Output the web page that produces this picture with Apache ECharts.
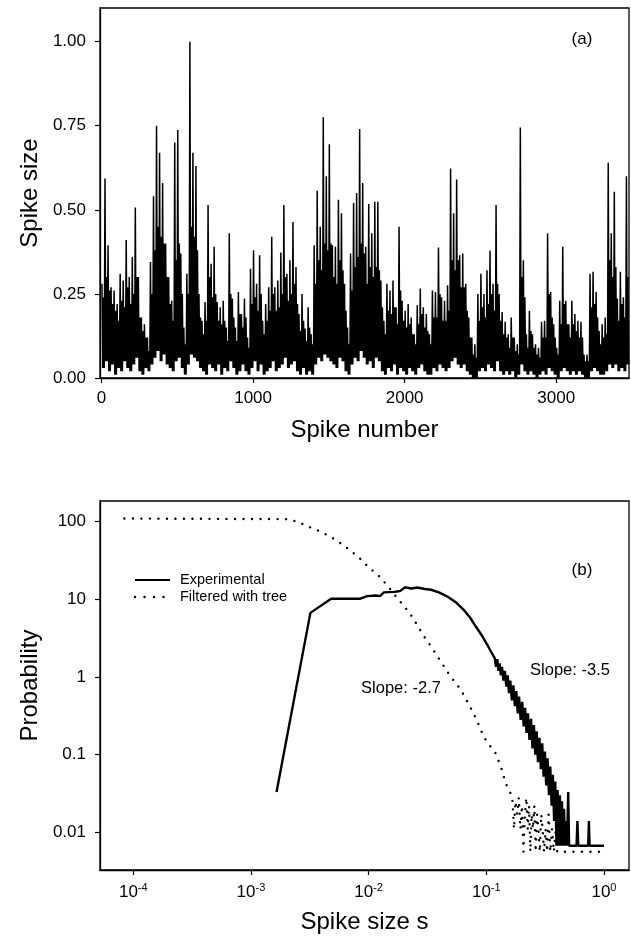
<!DOCTYPE html>
<html><head><meta charset="utf-8">
<script src="https://cdn.jsdelivr.net/npm/echarts@6/dist/echarts.min.js"></script>
<style>html,body{margin:0;padding:0;background:#fff}#c{width:631px;height:939px}</style>
</head><body><div id="c"></div>
<script>
// ---- Panel (a): spike sizes, read per block of 20 spikes ----
// peak = tallest spike in block, body = top of the dense mass, trough = lowest value
const BIN = 20;
const spikePeaks = [
 0.28,0.593,0.395,0.27,0.26,0.22,0.31,0.29,0.41,0.30,
 0.36,0.507,0.30,0.18,0.16,0.12,0.345,0.54,0.75,0.67,
 0.58,0.40,0.30,0.23,0.70,0.737,0.37,0.15,0.31,1.0,
 0.67,0.63,0.25,0.17,0.226,0.514,0.34,0.39,0.226,0.21,
 0.23,0.15,0.43,0.236,0.15,0.256,0.19,0.236,0.12,0.325,
 0.38,0.28,0.365,0.17,0.22,0.27,0.42,0.27,0.29,0.373,
 0.514,0.31,0.35,0.464,0.33,0.19,0.25,0.147,0.21,0.13,
 0.395,0.557,0.45,0.775,0.60,0.695,0.395,0.39,0.53,0.49,
 0.28,0.15,0.37,0.52,0.55,0.74,0.58,0.39,0.517,0.43,
 0.524,0.524,0.29,0.17,0.28,0.26,0.29,0.21,0.45,0.23,
 0.20,0.22,0.18,0.13,0.216,0.266,0.21,0.19,0.13,0.26,
 0.256,0.388,0.24,0.23,0.276,0.623,0.49,0.59,0.365,0.37,
 0.28,0.18,0.12,0.10,0.25,0.31,0.25,0.32,0.378,0.28,
 0.514,0.25,0.196,0.167,0.13,0.18,0.12,0.10,0.745,0.35,
 0.13,0.20,0.13,0.10,0.09,0.167,0.17,0.43,0.256,0.16,
 0.09,0.23,0.39,0.23,0.16,0.23,0.19,0.17,0.167,0.07,
 0.07,0.31,0.316,0.256,0.14,0.16,0.18,0.64,0.43,0.554,
 0.236,0.316,0.24,0.6
];
const spikeBody = [
 0.24,0.30,0.26,0.22,0.20,0.17,0.23,0.21,0.27,0.22,
 0.25,0.30,0.18,0.14,0.12,0.08,0.25,0.38,0.45,0.42,
 0.40,0.30,0.22,0.17,0.35,0.40,0.25,0.10,0.25,0.45,
 0.42,0.38,0.18,0.13,0.17,0.30,0.24,0.25,0.17,0.16,
 0.17,0.11,0.25,0.18,0.11,0.19,0.15,0.18,0.09,0.22,
 0.24,0.20,0.25,0.13,0.17,0.20,0.25,0.20,0.21,0.25,
 0.30,0.23,0.25,0.28,0.22,0.14,0.17,0.11,0.15,0.10,
 0.28,0.35,0.32,0.40,0.38,0.40,0.30,0.28,0.35,0.32,
 0.20,0.10,0.26,0.33,0.36,0.40,0.37,0.28,0.33,0.30,
 0.33,0.32,0.21,0.13,0.20,0.19,0.21,0.16,0.26,0.17,
 0.15,0.16,0.13,0.10,0.16,0.19,0.15,0.14,0.10,0.18,
 0.18,0.25,0.17,0.17,0.20,0.35,0.32,0.35,0.27,0.27,
 0.20,0.12,0.07,0.06,0.17,0.21,0.18,0.22,0.25,0.20,
 0.28,0.17,0.13,0.12,0.09,0.12,0.08,0.07,0.30,0.24,
 0.09,0.14,0.09,0.07,0.06,0.12,0.12,0.25,0.18,0.12,
 0.07,0.16,0.22,0.16,0.12,0.16,0.14,0.12,0.12,0.05,
 0.05,0.21,0.22,0.18,0.10,0.12,0.13,0.35,0.30,0.33,
 0.17,0.22,0.18,0.30
];
const spikeTroughs = [
 0.03,0.05,0.02,0.04,0.01,0.03,0.02,0.05,0.03,0.02,
 0.04,0.06,0.02,0.01,0.03,0.02,0.04,0.06,0.08,0.05,
 0.07,0.04,0.03,0.02,0.05,0.06,0.03,0.01,0.04,0.07,
 0.06,0.05,0.03,0.02,0.01,0.04,0.03,0.02,0.04,0.01,
 0.03,0.02,0.05,0.03,0.01,0.02,0.04,0.02,0.01,0.03,
 0.05,0.02,0.04,0.01,0.02,0.03,0.05,0.02,0.03,0.04,
 0.06,0.03,0.04,0.05,0.02,0.01,0.03,0.01,0.02,0.01,
 0.04,0.06,0.05,0.07,0.06,0.05,0.04,0.03,0.06,0.05,
 0.02,0.01,0.04,0.06,0.05,0.08,0.06,0.04,0.05,0.03,
 0.06,0.05,0.02,0.01,0.03,0.02,0.04,0.01,0.03,0.02,
 0.01,0.03,0.02,0.01,0.03,0.04,0.02,0.01,0.01,0.03,
 0.02,0.04,0.03,0.02,0.03,0.05,0.06,0.04,0.03,0.04,
 0.02,0.01,0.0,0.0,0.02,0.03,0.02,0.04,0.03,0.02,
 0.05,0.02,0.01,0.02,0.01,0.02,0.0,0.01,0.04,0.02,
 0.01,0.02,0.01,0.0,0.01,0.02,0.01,0.03,0.02,0.01,
 0.0,0.02,0.03,0.02,0.01,0.02,0.01,0.02,0.01,0.0,
 0.0,0.02,0.03,0.02,0.01,0.01,0.02,0.04,0.03,0.04,
 0.02,0.03,0.02,0.04
];
const spikeTicks = [0, 1000, 2000, 3000];
const sizeTicks = [0, 0.25, 0.5, 0.75, 1.0];

// ---- Panel (b): probability distributions ----
const expS = [0.00165,0.0032,0.0048,0.0085,0.0097,0.0115,0.0125,0.0135,0.0165,0.0185,
 0.0205,0.023,0.026,0.030,0.034,0.040,0.047,0.055,0.064,0.073,0.082,0.092,0.102,0.110,
 0.118,0.121,0.124,0.127,0.130,0.133,0.136,0.140,0.144,0.148,0.152,0.156,0.160,0.165,0.170,0.175,
 0.180,0.185,0.190,0.196,0.202,0.208,0.214,0.220,0.226,0.233,0.240,0.247,0.254,0.261,0.268,0.275,
 0.283,0.291,0.299,0.307,0.315,0.323,0.332,0.341,0.350,0.359,0.368,0.377,0.386,0.395,0.404,0.413,
 0.422,0.431,0.440,0.449,0.458,0.467,0.476,0.485,0.497,0.506,0.585,0.595,0.605,0.735,0.745,0.755,1.0];
const expP = [0.033,6.7,10.2,10.2,11.0,11.2,11.0,12.3,12.5,12.8,
 14.3,13.8,14.2,13.6,13.3,12.2,10.8,9.2,7.4,5.8,4.4,3.4,2.6,2.1,
 1.75,1.35,1.70,1.20,1.50,1.05,1.35,0.90,1.20,0.75,1.05,0.62,0.90,0.50,0.78,0.42,
 0.66,0.34,0.56,0.28,0.48,0.23,0.40,0.19,0.34,0.155,0.29,0.12,0.24,0.10,0.20,0.08,
 0.165,0.065,0.14,0.052,0.11,0.04,0.09,0.03,0.07,0.022,0.055,0.014,0.045,0.0067,0.035,0.0067,
 0.03,0.0067,0.025,0.0067,0.02,0.0067,0.014,0.0067,0.033,0.0067,0.0067,0.014,0.0067,0.0067,0.014,0.0067,0.0067];
const filtS = [0.000084,0.0020,0.0025,0.00305,0.0037,0.0045,0.0055,0.0068,0.0082,0.010,
 0.0122,0.0145,0.017,0.020,0.0232,0.0263,0.0297,0.034,0.042,0.048,0.061,0.075,0.083,0.095,
 0.109,0.120,0.133,0.141,0.150,0.166,
 0.172,0.177,0.183,0.189,0.195,0.201,0.207,0.213,0.219,0.225,0.231,0.237,0.243,0.249,0.256,
 0.263,0.270,0.277,0.285,0.293,0.301,0.310,0.319,0.329,0.339,0.350,0.362,0.375,0.390,0.400,1.0];
const filtP = [110,108,100,87,77,67,56,44,35,26,
 20,15,11,8.2,6.1,4.5,3.3,2.46,1.5,1.1,0.68,0.38,0.28,0.17,
 0.126,0.104,0.07,0.052,0.039,0.029,
 0.011,0.025,0.017,0.028,0.011,0.022,0.0056,0.017,0.028,0.011,0.022,0.0056,0.017,0.011,0.022,
 0.0056,0.017,0.011,0.0056,0.017,0.011,0.0056,0.011,0.0056,0.017,0.0056,0.011,0.0056,0.011,0.0056,0.0056];
const probTicks = [0.01, 0.1, 1, 10, 100];
const sizeLogTicks = [0.0001, 0.001, 0.01, 0.1, 1];

const FONT = '"Liberation Sans", Arial, Helvetica, sans-serif';
const BLACK = '#000';

const spikeData = [];
spikePeaks.forEach((p, i) => {
  spikeData.push([i * BIN + 3, p]);
  spikeData.push([i * BIN + 8, spikeTroughs[i]]);
  spikeData.push([i * BIN + 13, spikeBody[i]]);
  spikeData.push([i * BIN + 18, spikeTroughs[i]]);
});
const expData = expS.map((s, i) => [s, expP[i]]);
const filtData = filtS.map((s, i) => [s, filtP[i]]);

const axisCommon = {
  axisLine: { onZero: false, lineStyle: { color: BLACK, width: 1.3 } },
  axisTick: { show: true, length: 5, lineStyle: { color: BLACK, width: 1.2 } },
  splitLine: { show: false },
  minorTick: { show: false },
  nameTextStyle: { fontSize: 24, color: BLACK, fontFamily: FONT }
};

const chart = echarts.init(document.getElementById('c'), null, { renderer: 'canvas' });
chart.setOption({
  animation: false,
  backgroundColor: '#fff',
  grid: [
    { left: 100, top: 8, right: 2, height: 370, show: true, borderColor: BLACK, borderWidth: 1.3 },
    { left: 100, top: 501, right: 2, height: 369, show: true, borderColor: BLACK, borderWidth: 1.3 }
  ],
  xAxis: [
    Object.assign({}, axisCommon, {
      type: 'value', gridIndex: 0, min: -10, max: 3480,
      axisTick: Object.assign({}, axisCommon.axisTick, { customValues: spikeTicks }),
      axisLabel: { customValues: spikeTicks, fontSize: 17, color: BLACK, fontFamily: FONT, margin: 12,
        formatter: v => String(v) },
      name: 'Spike number', nameLocation: 'middle', nameGap: 40
    }),
    Object.assign({}, axisCommon, {
      type: 'log', logBase: 10, gridIndex: 1, min: Math.pow(10, -4.283), max: Math.pow(10, 0.213),
      axisTick: Object.assign({}, axisCommon.axisTick, { customValues: sizeLogTicks }),
      axisLabel: {
        customValues: sizeLogTicks, color: BLACK, fontFamily: FONT, margin: 12,
        formatter: v => '{b|10}{e|' + Math.round(Math.log10(v)) + '}',
        rich: {
          b: { fontSize: 17, fontFamily: FONT, color: BLACK, verticalAlign: 'bottom' },
          e: { fontSize: 11, fontFamily: FONT, color: BLACK, verticalAlign: 'bottom', padding: [0, 0, 8, 0] }
        }
      },
      name: 'Spike size s', nameLocation: 'middle', nameGap: 40
    })
  ],
  yAxis: [
    Object.assign({}, axisCommon, {
      type: 'value', gridIndex: 0, min: 0, max: 1.1,
      axisTick: Object.assign({}, axisCommon.axisTick, { customValues: sizeTicks }),
      axisLabel: { customValues: sizeTicks, fontSize: 17, color: BLACK, fontFamily: FONT, margin: 14,
        formatter: v => v.toFixed(2) },
      name: 'Spike size', nameLocation: 'middle', nameGap: 55, nameRotate: 90
    }),
    Object.assign({}, axisCommon, {
      type: 'log', logBase: 10, gridIndex: 1, min: Math.pow(10, -2.486), max: Math.pow(10, 2.267),
      axisTick: Object.assign({}, axisCommon.axisTick, { customValues: probTicks }),
      axisLabel: { customValues: probTicks, fontSize: 17, color: BLACK, fontFamily: FONT, margin: 14,
        formatter: v => String(v) },
      name: 'Probability', nameLocation: 'middle', nameGap: 57, nameRotate: 90
    })
  ],
  graphic: [
    { type: 'text', x: 582, y: 39, style: { text: '(a)', fontSize: 17, fontFamily: FONT, fill: BLACK, align: 'center', verticalAlign: 'middle' } },
    { type: 'text', x: 582, y: 570, style: { text: '(b)', fontSize: 17, fontFamily: FONT, fill: BLACK, align: 'center', verticalAlign: 'middle' } },
    { type: 'text', x: 570, y: 670, style: { text: 'Slope: -3.5', fontSize: 16.5, fontFamily: FONT, fill: BLACK, align: 'center', verticalAlign: 'middle' } },
    { type: 'text', x: 401, y: 688, style: { text: 'Slope: -2.7', fontSize: 16.5, fontFamily: FONT, fill: BLACK, align: 'center', verticalAlign: 'middle' } },
    // legend
    { type: 'line', shape: { x1: 135, y1: 580, x2: 170, y2: 580 }, style: { stroke: BLACK, lineWidth: 2.2 } },
    { type: 'text', x: 180, y: 580, style: { text: 'Experimental', fontSize: 14.5, fontFamily: FONT, fill: BLACK, align: 'left', verticalAlign: 'middle' } },
    { type: 'line', shape: { x1: 135, y1: 597, x2: 170, y2: 597 }, style: { stroke: BLACK, lineWidth: 2.4, lineDash: [0.01, 9.5], lineCap: 'round' } },
    { type: 'text', x: 180, y: 597, style: { text: 'Filtered with tree', fontSize: 14.5, fontFamily: FONT, fill: BLACK, align: 'left', verticalAlign: 'middle' } }
  ],
  series: [
    { type: 'line', name: 'spikes', xAxisIndex: 0, yAxisIndex: 0, data: spikeData,
      showSymbol: false, symbol: 'none', silent: true,
      lineStyle: { color: BLACK, width: 1.5 } },
    { type: 'line', name: 'Experimental', xAxisIndex: 1, yAxisIndex: 1, data: expData,
      showSymbol: false, symbol: 'none', silent: true, itemStyle: { color: BLACK },
      lineStyle: { color: BLACK, width: 2.4 } },
    { type: 'line', name: 'Filtered with tree', xAxisIndex: 1, yAxisIndex: 1, data: filtData,
      showSymbol: false, symbol: 'none', silent: true, itemStyle: { color: BLACK },
      lineStyle: { color: BLACK, width: 2.4, type: [0.01, 8.5], cap: 'round' } }
  ]
});
</script>
</body></html>
